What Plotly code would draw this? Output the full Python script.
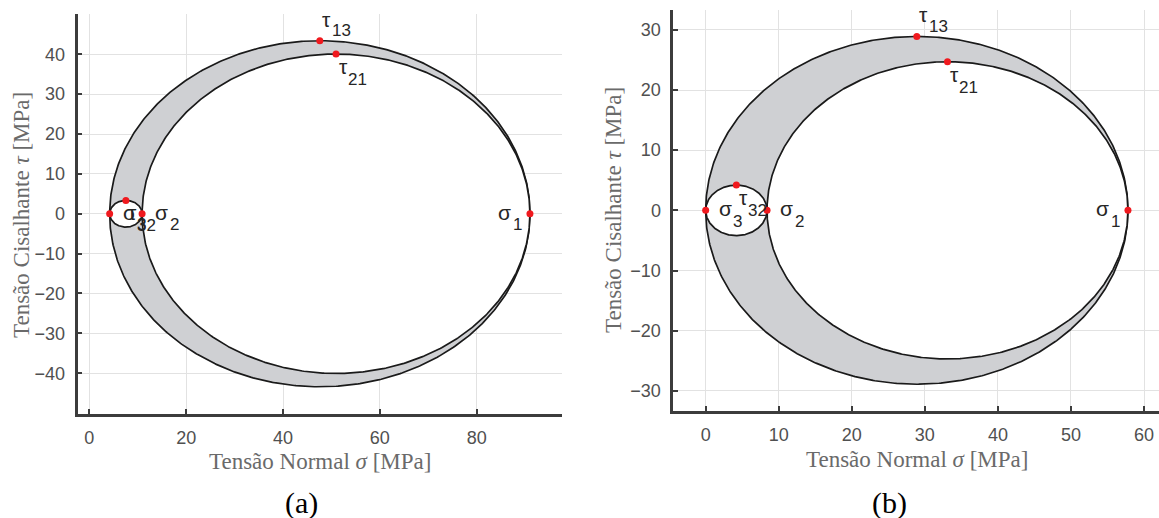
import numpy as np
import plotly.graph_objects as go

# Principal stresses [MPa] for the two cases: (sigma_1, sigma_2, sigma_3)
sigma_a = [91.0, 10.9, 4.2]
sigma_b = [57.8, 8.4, 0.0]

# Axis ranges and tick values for each panel
xrange_a = [-2.44, 97.6]
yrange_a = [-50.1, 50.1]
xticks_a = [0, 20, 40, 60, 80]
yticks_a = [-40, -30, -20, -10, 0, 10, 20, 30, 40]

xrange_b = [-4.43, 62.05]
yrange_b = [-33.3, 33.3]
xticks_b = [0, 10, 20, 30, 40, 50, 60]
yticks_b = [-30, -20, -10, 0, 10, 20, 30]

panel_tags = ["(a)", "(b)"]

FILL = "#cfd0d3"
LINE = "#1a1a1a"
TXT = "#262626"
GRID = "#e2e2e2"
AXC = "#3c3c3c"

theta = np.linspace(0, 2 * np.pi, 721)


def circle(lo, hi):
    c = (lo + hi) / 2.0
    r = (hi - lo) / 2.0
    return c + r * np.cos(theta), r * np.sin(theta)


fig = go.Figure()


def add_mohr(sig, xa, ya):
    s1, s2, s3 = sig
    # outer circle (sigma_3 - sigma_1) filled grey
    x, y = circle(s3, s1)
    fig.add_trace(go.Scatter(x=x, y=y, mode="lines", fill="toself", fillcolor=FILL,
                             line=dict(color=LINE, width=1.7), xaxis=xa, yaxis=ya,
                             hoverinfo="skip", showlegend=False))
    # inner circles cut out in white
    for lo, hi in [(s2, s1), (s3, s2)]:
        x, y = circle(lo, hi)
        fig.add_trace(go.Scatter(x=x, y=y, mode="lines", fill="toself", fillcolor="white",
                                 line=dict(color=LINE, width=1.7), xaxis=xa, yaxis=ya,
                                 hoverinfo="skip", showlegend=False))
    # principal stresses and maximum shear points
    px = [s1, s2, s3, (s1 + s3) / 2, (s1 + s2) / 2, (s2 + s3) / 2]
    py = [0, 0, 0, (s1 - s3) / 2, (s1 - s2) / 2, (s2 - s3) / 2]
    fig.add_trace(go.Scatter(x=px, y=py, mode="markers",
                             marker=dict(color="#f0191e", size=7),
                             xaxis=xa, yaxis=ya, hoverinfo="skip", showlegend=False))
    return px, py


# pixel offsets of the greek letter and of the subscript from the point
OFFS = {
    "right": ((19.5, -1.5), (32, 11)),
    "left": ((-25.5, -1.5), (-12, 11)),
    "above": ((7, -21.5), (21.5, -10)),
    "below": ((7, 12.5), (21, 25.5)),
}


def add_label(greek, sub, x, y, xa, ya, where):
    (gdx, gdy), (sdx, sdy) = OFFS[where]
    xr = "x" if xa == "x" else "x2"
    yr = "y" if ya == "y" else "y2"
    fig.add_annotation(x=x, y=y, xref=xr, yref=yr, text=greek, showarrow=False,
                       xanchor="center", yanchor="middle", xshift=gdx, yshift=-gdy,
                       font=dict(family="Liberation Sans, Arial", size=21, color=TXT))
    fig.add_annotation(x=x, y=y, xref=xr, yref=yr, text=sub, showarrow=False,
                       xanchor="center", yanchor="middle", xshift=sdx, yshift=-sdy,
                       font=dict(family="Liberation Sans, Arial", size=17, color=TXT))


for sig, xa, ya in [(sigma_a, "x", "y"), (sigma_b, "x2", "y2")]:
    px, py = add_mohr(sig, xa, ya)
    add_label("σ", "1", px[0], py[0], xa, ya, "left")
    add_label("σ", "2", px[1], py[1], xa, ya, "right")
    add_label("σ", "3", px[2], py[2], xa, ya, "right")
    add_label("τ", "13", px[3], py[3], xa, ya, "above")
    add_label("τ", "21", px[4], py[4], xa, ya, "below")
    add_label("τ", "32", px[5], py[5], xa, ya, "below")

W, H = 1159, 518

axis_common = dict(
    showgrid=True, gridcolor=GRID, gridwidth=1, zeroline=False,
    showline=True, linecolor=AXC, linewidth=2.6, mirror=False,
    ticks="inside", ticklen=5, tickwidth=1.5, tickcolor=AXC,
    tickfont=dict(family="Liberation Sans, Arial", size=18, color="#505050"),
)
title_font = dict(family="Liberation Serif, Times New Roman", size=23, color="#6a6a6a")

fig.update_layout(
    width=W, height=H,
    margin=dict(l=0, r=0, t=0, b=0),
    paper_bgcolor="white", plot_bgcolor="white",
    xaxis=dict(domain=[77.5 / W, 561.9 / W], range=xrange_a, tickvals=xticks_a,
               anchor="y", ticklabelstandoff=6, **axis_common),
    yaxis=dict(domain=[1 - 413.5 / H, 1 - 14 / H], range=yrange_a, tickvals=yticks_a,
               anchor="x", ticklabelstandoff=6, **axis_common),
    xaxis2=dict(domain=[673.3 / W, 1.0], range=xrange_b, tickvals=xticks_b,
                anchor="y2", ticklabelstandoff=6, **axis_common),
    yaxis2=dict(domain=[1 - 410.7 / H, 1 - 10 / H], range=yrange_b, tickvals=yticks_b,
                anchor="x2", ticklabelstandoff=6, **axis_common),
)

# axis titles and panel tags
for cx, cy in [(319.7, 461.7), (917, 459.3)]:
    fig.add_annotation(x=cx / W, y=1 - cy / H, xref="paper", yref="paper",
                       text="Tensão Normal <i>σ</i> [MPa]", showarrow=False,
                       xanchor="center", yanchor="middle", font=title_font)
for cx, cy in [(22, 215), (613, 210)]:
    fig.add_annotation(x=cx / W, y=1 - cy / H, xref="paper", yref="paper",
                       text="Tensão Cisalhante <i>τ</i> [MPa]", showarrow=False, textangle=-90,
                       xanchor="center", yanchor="middle", font=title_font)
for tag, (cx, cy) in zip(panel_tags, [(301, 502.7), (889, 502.5)]):
    fig.add_annotation(x=cx / W, y=1 - cy / H, xref="paper", yref="paper",
                       text=tag, showarrow=False, xanchor="center", yanchor="middle",
                       font=dict(family="Liberation Serif, Times New Roman", size=30, color="black"))

fig.write_html("out.html")
